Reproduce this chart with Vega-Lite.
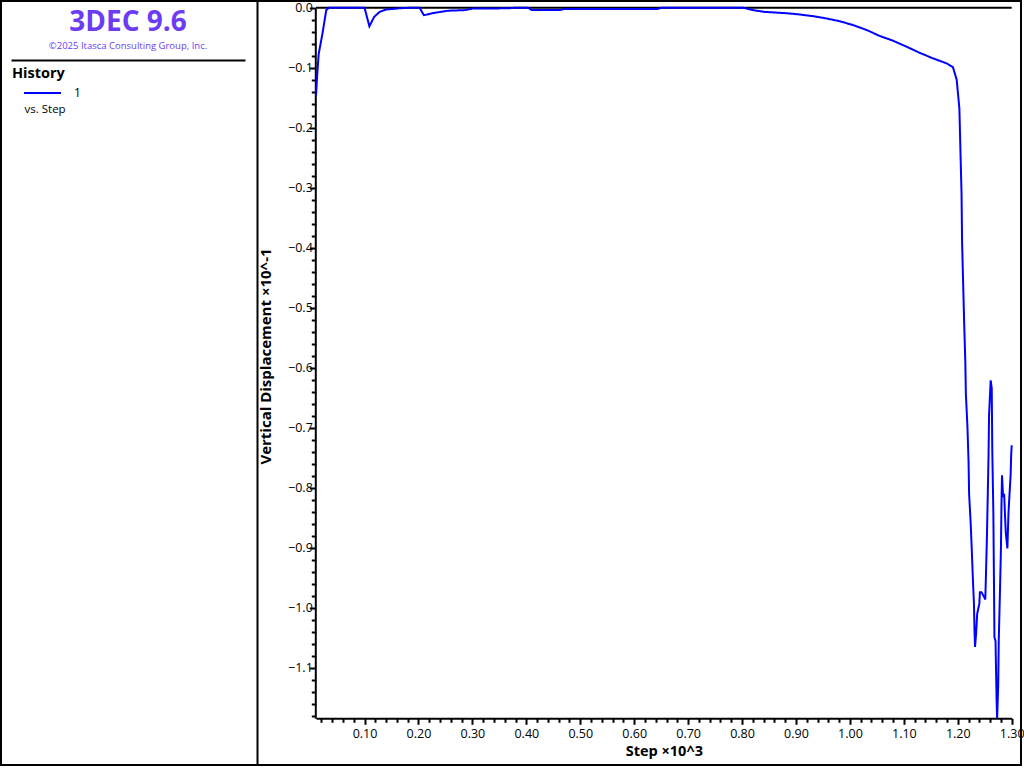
{
  "$schema": "https://vega.github.io/schema/vega-lite/v6.json",
  "width": 1020,
  "height": 764,
  "autosize": "none",
  "padding": {"left": 1, "top": 1, "right": 3, "bottom": 3},
  "background": "white",
  "config": {
    "font": "Open Sans",
    "view": {"stroke": "black", "strokeWidth": 2},
    "axis": {"domainColor": "black", "domainWidth": 2, "tickColor": "black", "tickWidth": 2, "labelColor": "black", "labelFontSize": 12.5, "titleColor": "black", "titleFontSize": 15, "titleFontWeight": "bold", "grid": false},
    "legend": {"titleFontSize": 14.5, "titleFontWeight": "bold", "titleColor": "black", "labelFontSize": 12, "labelColor": "black", "padding": 0}
  },
  "title": {
    "text": "3DEC 9.6",
    "subtitle": "©2025 Itasca Consulting Group, Inc.",
    "anchor": "start",
    "align": "center",
    "dx": 127,
    "frame": "group",
    "offset": -49,
    "fontSize": 28,
    "fontWeight": "bold",
    "color": "#6c3cf5",
    "subtitleFontSize": 9.5,
    "subtitleColor": "#6c3cf5",
    "subtitlePadding": 4
  },
  "layer": [
    {
      "layer": [
        {
          "data": {"values": [{"zero": 0}]},
          "mark": {"type": "rule", "color": "black", "strokeWidth": 2},
          "encoding": {
            "x": {"datum": 0.01, "type": "quantitative",
              "scale": {"domain": [0.01, 1.3], "range": [315, 1010.7], "nice": false, "zero": false},
              "axis": {"orient": "bottom", "offset": -46.7, "title": "Step ×10^3", "tickCount": 200, "titleFontSize": 14.5,
                "values": [0.02,0.04,0.06,0.08,0.1,0.12,0.14,0.16,0.18,0.2,0.22,0.24,0.26,0.28,0.3,0.32,0.34,0.36,0.38,0.4,0.42,0.44,0.46,0.48,0.5,0.52,0.54,0.56,0.58,0.6,0.62,0.64,0.66,0.68,0.7,0.72,0.74,0.76,0.78,0.8,0.82,0.84,0.86,0.88,0.9,0.92,0.94,0.96,0.98,1.0,1.02,1.04,1.06,1.08,1.1,1.12,1.14,1.16,1.18,1.2,1.22,1.24,1.26,1.28,1.3],
                "labelExpr": "abs(datum.value*10 - round(datum.value*10)) < 0.001 ? format(datum.value, '.2f') : ''",
                "tickSize": {"condition": {"test": "abs(datum.value*10 - round(datum.value*10)) < 0.001", "value": 6}, "value": 4},
                "labelOverlap": false, "labelFlush": false, "labelPadding": 3, "titlePadding": 5}},
            "x2": {"datum": 1.3},
            "y": {"datum": 0, "type": "quantitative",
              "scale": {"domain": [-1.184, 0], "range": [717.3, 6.7], "nice": false, "zero": false},
              "axis": {"orient": "left", "offset": -314.3, "title": "Vertical Displacement ×10^-1", "tickCount": 200, "titleY": 355,
                "values": [0,-0.02,-0.04,-0.06,-0.08,-0.1,-0.12,-0.14,-0.16,-0.18,-0.2,-0.22,-0.24,-0.26,-0.28,-0.3,-0.32,-0.34,-0.36,-0.38,-0.4,-0.42,-0.44,-0.46,-0.48,-0.5,-0.52,-0.54,-0.56,-0.58,-0.6,-0.62,-0.64,-0.66,-0.68,-0.7,-0.72,-0.74,-0.76,-0.78,-0.8,-0.82,-0.84,-0.86,-0.88,-0.9,-0.92,-0.94,-0.96,-0.98,-1.0,-1.02,-1.04,-1.06,-1.08,-1.1,-1.12,-1.14,-1.16,-1.18],
                "labelExpr": "abs(datum.value*10 - round(datum.value*10)) < 0.001 ? format(datum.value, '.1f') : ''",
                "tickSize": {"condition": {"test": "abs(datum.value*10 - round(datum.value*10)) < 0.001", "value": 6}, "value": 4},
                "labelOverlap": false, "labelFlush": false, "labelPadding": -3, "titlePadding": 14}}
          }
        },
        {
          "data": {"values": [
            {"step": 0.010, "disp": -0.146},
            {"step": 0.012, "disp": -0.115},
            {"step": 0.015, "disp": -0.077},
            {"step": 0.022, "disp": -0.043},
            {"step": 0.029, "disp": -0.004},
            {"step": 0.034, "disp": 0},
            {"step": 0.100, "disp": 0},
            {"step": 0.109, "disp": -0.031},
            {"step": 0.118, "disp": -0.015},
            {"step": 0.128, "disp": -0.007},
            {"step": 0.140, "disp": -0.003},
            {"step": 0.165, "disp": -0.001},
            {"step": 0.185, "disp": 0},
            {"step": 0.202, "disp": 0},
            {"step": 0.210, "disp": -0.0125},
            {"step": 0.227, "disp": -0.009},
            {"step": 0.255, "disp": -0.005},
            {"step": 0.286, "disp": -0.004},
            {"step": 0.300, "disp": -0.0015},
            {"step": 0.366, "disp": -0.001},
            {"step": 0.380, "disp": 0},
            {"step": 0.403, "disp": 0},
            {"step": 0.410, "disp": -0.004},
            {"step": 0.462, "disp": -0.004},
            {"step": 0.470, "disp": -0.002},
            {"step": 0.644, "disp": -0.002},
            {"step": 0.650, "disp": 0},
            {"step": 0.802, "disp": 0},
            {"step": 0.820, "disp": -0.004},
            {"step": 0.842, "disp": -0.007},
            {"step": 0.879, "disp": -0.009},
            {"step": 0.904, "disp": -0.011},
            {"step": 0.931, "disp": -0.014},
            {"step": 0.957, "disp": -0.018},
            {"step": 0.981, "disp": -0.0225},
            {"step": 1.006, "disp": -0.029},
            {"step": 1.032, "disp": -0.0375},
            {"step": 1.055, "disp": -0.047},
            {"step": 1.080, "disp": -0.055},
            {"step": 1.105, "disp": -0.065},
            {"step": 1.129, "disp": -0.075},
            {"step": 1.153, "disp": -0.084},
            {"step": 1.180, "disp": -0.093},
            {"step": 1.191, "disp": -0.099},
            {"step": 1.198, "disp": -0.12},
            {"step": 1.203, "disp": -0.168},
            {"step": 1.205, "disp": -0.24},
            {"step": 1.207, "disp": -0.31},
            {"step": 1.208, "disp": -0.39},
            {"step": 1.210, "disp": -0.46},
            {"step": 1.212, "disp": -0.53},
            {"step": 1.214, "disp": -0.59},
            {"step": 1.215, "disp": -0.643},
            {"step": 1.218, "disp": -0.70},
            {"step": 1.220, "disp": -0.757},
            {"step": 1.221, "disp": -0.81},
            {"step": 1.224, "disp": -0.86},
            {"step": 1.226, "disp": -0.904},
            {"step": 1.228, "disp": -0.951},
            {"step": 1.230, "disp": -0.993},
            {"step": 1.231, "disp": -1.037},
            {"step": 1.232, "disp": -1.065},
            {"step": 1.234, "disp": -1.043},
            {"step": 1.236, "disp": -1.01},
            {"step": 1.240, "disp": -0.993},
            {"step": 1.241, "disp": -0.974},
            {"step": 1.244, "disp": -0.974},
            {"step": 1.249, "disp": -0.982},
            {"step": 1.251, "disp": -0.986},
            {"step": 1.252, "disp": -0.954},
            {"step": 1.254, "disp": -0.885},
            {"step": 1.257, "disp": -0.749},
            {"step": 1.258, "disp": -0.679},
            {"step": 1.261, "disp": -0.621},
            {"step": 1.263, "disp": -0.634},
            {"step": 1.264, "disp": -0.738},
            {"step": 1.266, "disp": -0.843},
            {"step": 1.268, "disp": -1.049},
            {"step": 1.270, "disp": -1.055},
            {"step": 1.272, "disp": -1.154},
            {"step": 1.273, "disp": -1.184},
            {"step": 1.275, "disp": -1.129},
            {"step": 1.276, "disp": -1.054},
            {"step": 1.278, "disp": -0.982},
            {"step": 1.280, "disp": -0.904},
            {"step": 1.281, "disp": -0.832},
            {"step": 1.282, "disp": -0.779},
            {"step": 1.284, "disp": -0.815},
            {"step": 1.286, "disp": -0.810},
            {"step": 1.288, "disp": -0.854},
            {"step": 1.289, "disp": -0.874},
            {"step": 1.292, "disp": -0.901},
            {"step": 1.294, "disp": -0.843},
            {"step": 1.296, "disp": -0.81},
            {"step": 1.298, "disp": -0.779},
            {"step": 1.299, "disp": -0.746},
            {"step": 1.300, "disp": -0.729}
          ]},
          "mark": {"type": "line", "strokeWidth": 2, "clip": true},
          "encoding": {
            "x": {"field": "step", "type": "quantitative"},
            "y": {"field": "disp", "type": "quantitative"},
            "color": {"datum": "1", "type": "nominal",
              "scale": {"range": ["#0000ff"]},
              "legend": {"title": "History", "orient": "none", "legendX": 11, "legendY": 66,
                "symbolType": "stroke", "symbolSize": 1369, "symbolStrokeWidth": 2, "symbolOffset": 11,
                "labelOffset": 12, "titlePadding": -8}},
            "strokeDash": {"datum": "vs. Step", "type": "nominal",
              "scale": {"range": [[1, 0]]},
              "legend": {"title": null, "orient": "none", "legendX": 12, "legendY": 103,
                "symbolType": "stroke", "symbolSize": 4, "symbolOpacity": 0, "symbolStrokeWidth": 0,
                "labelOffset": 0, "labelFontSize": 11.5}}
          }
        }
      ]
    },
    {
      "data": {"values": []},
      "mark": "point",
      "encoding": {
        "x": {"field": "u", "type": "quantitative",
          "scale": {"domain": [0, 1], "range": [10, 244]},
          "axis": {"orient": "top", "offset": -59, "ticks": false, "labels": false, "title": null, "domain": true}},
        "y": {"field": "v", "type": "quantitative",
          "scale": {"domain": [0, 1], "range": [764, 0]},
          "axis": {"orient": "left", "offset": -256, "ticks": false, "labels": false, "title": null, "domain": true}}
      }
    }
  ],
  "resolve": {"scale": {"x": "independent", "y": "independent"}}
}
